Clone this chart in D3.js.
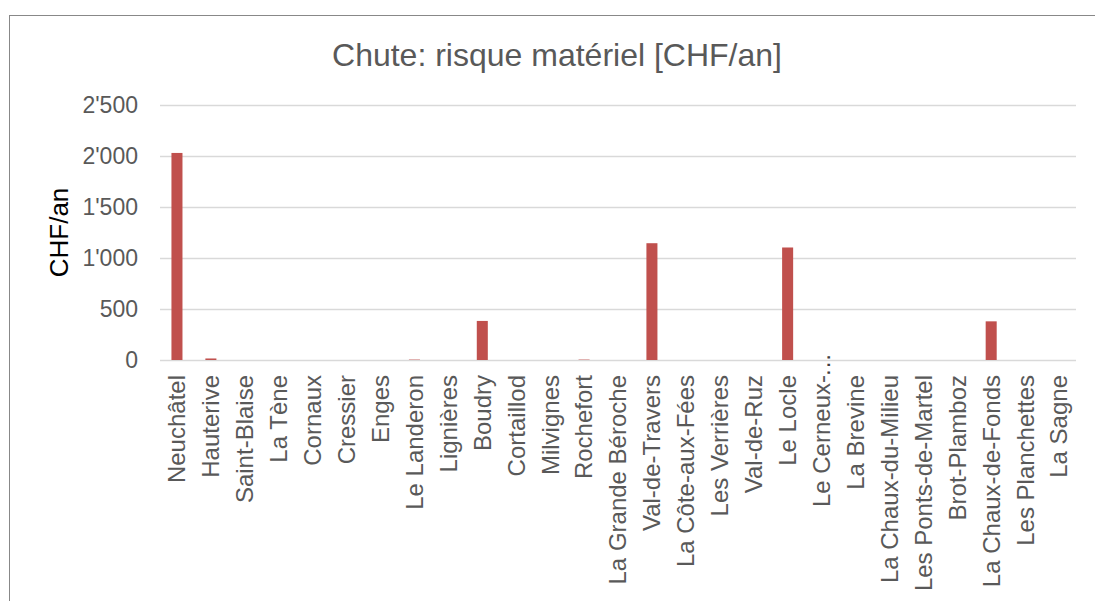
<!DOCTYPE html>
<html>
<head>
<meta charset="utf-8">
<script src="https://cdn.jsdelivr.net/npm/d3@7"></script>
<style>
    html, body { margin: 0; padding: 0; background: #ffffff; }
    svg { display: block; font-family: "Liberation Sans", Arial, sans-serif; }
</style>
</head>
<body>
<div id="chart"></div>
<script>
// Communes (x axis categories)
const communes = [
    'Neuchâtel', 'Hauterive', 'Saint-Blaise', 'La Tène', 'Cornaux', 'Cressier',
    'Enges', 'Le Landeron', 'Lignières', 'Boudry', 'Cortaillod', 'Milvignes',
    'Rochefort', 'La Grande Béroche', 'Val-de-Travers', 'La Côte-aux-Fées',
    'Les Verrières', 'Val-de-Ruz', 'Le Locle', 'Le Cerneux-…', 'La Brevine',
    'La Chaux-du-Milieu', 'Les Ponts-de-Martel', 'Brot-Plamboz',
    'La Chaux-de-Fonds', 'Les Planchettes', 'La Sagne'
];

// Risque matériel [CHF/an]
const risque = [
    2030, 15, 0, 0, 0, 0,
    0, 4, 0, 383, 0, 0,
    4, 0, 1145, 0,
    0, 0, 1103, 0, 0,
    0, 0, 0,
    379, 0, 0
];

const yTicks = [0, 500, 1000, 1500, 2000, 2500];

const width = 1095;
const height = 601;
const plot = { left: 160, right: 1076, top: 105, bottom: 360 };

const svg = d3.select('#chart')
    .append('svg')
    .attr('width', width)
    .attr('height', height);

// Chart frame (runs past the picture edges on the right and bottom)
svg.append('rect')
    .attr('x', 9.5)
    .attr('y', 15.5)
    .attr('width', 1200)
    .attr('height', 700)
    .attr('fill', '#ffffff')
    .attr('stroke', '#888888')
    .attr('stroke-width', 1);

const x = d3.scaleBand()
    .domain(communes)
    .range([plot.left, plot.right])
    .paddingInner(0.675)
    .paddingOuter(0.3375);

const y = d3.scaleLinear()
    .domain([0, 2500])
    .range([plot.bottom, plot.top]);

const fmt = v => d3.format(',')(v).replace(/,/g, "'");

// Gridlines
svg.append('g')
    .selectAll('line')
    .data(yTicks)
    .enter()
    .append('line')
    .attr('x1', plot.left)
    .attr('x2', plot.right)
    .attr('y1', d => Math.round(y(d)) + 0.5)
    .attr('y2', d => Math.round(y(d)) + 0.5)
    .attr('stroke', '#d9d9d9')
    .attr('stroke-width', 1.5);

// Y tick labels
svg.append('g')
    .selectAll('text')
    .data(yTicks)
    .enter()
    .append('text')
    .attr('x', 138)
    .attr('y', d => y(d))
    .attr('dy', '0.35em')
    .attr('text-anchor', 'end')
    .attr('font-size', '23px')
    .attr('fill', '#595959')
    .text(fmt);

// Bars
svg.append('g')
    .selectAll('rect')
    .data(communes)
    .enter()
    .append('rect')
    .attr('x', d => x(d))
    .attr('width', x.bandwidth())
    .attr('y', (d, i) => y(risque[i]))
    .attr('height', (d, i) => y(0) - y(risque[i]))
    .attr('fill', '#c0504d');

// Category labels, rotated
const labels = svg.append('g');
communes.forEach(c => {
    const cx = x(c) + x.bandwidth() / 2;
    const g = labels.append('g')
        .attr('transform', `translate(${cx},375) rotate(-90)`);
    const truncated = c.endsWith('…');
    g.append('text')
        .attr('x', 0)
        .attr('y', 0)
        .attr('dy', '0.35em')
        .attr('text-anchor', 'end')
        .attr('font-size', '24px')
        .attr('fill', '#595959')
        .text(truncated ? c.slice(0, -1) : c);
    if (truncated) {
        // Excel lets the ellipsis spill above the label
        g.append('text')
            .attr('x', -2)
            .attr('y', 0)
            .attr('dy', '0.35em')
            .attr('text-anchor', 'start')
            .attr('font-size', '24px')
            .attr('fill', '#404040')
            .text('…');
    }
});

// Title
svg.append('text')
    .attr('x', 557)
    .attr('y', 66)
    .attr('text-anchor', 'middle')
    .attr('font-size', '32px')
    .attr('fill', '#595959')
    .text('Chute: risque matériel [CHF/an]');

// Y axis title
svg.append('text')
    .attr('transform', `translate(68,${(plot.top + plot.bottom) / 2}) rotate(-90)`)
    .attr('text-anchor', 'middle')
    .attr('font-size', '26px')
    .attr('fill', '#000000')
    .text('CHF/an');
</script>
</body>
</html>
